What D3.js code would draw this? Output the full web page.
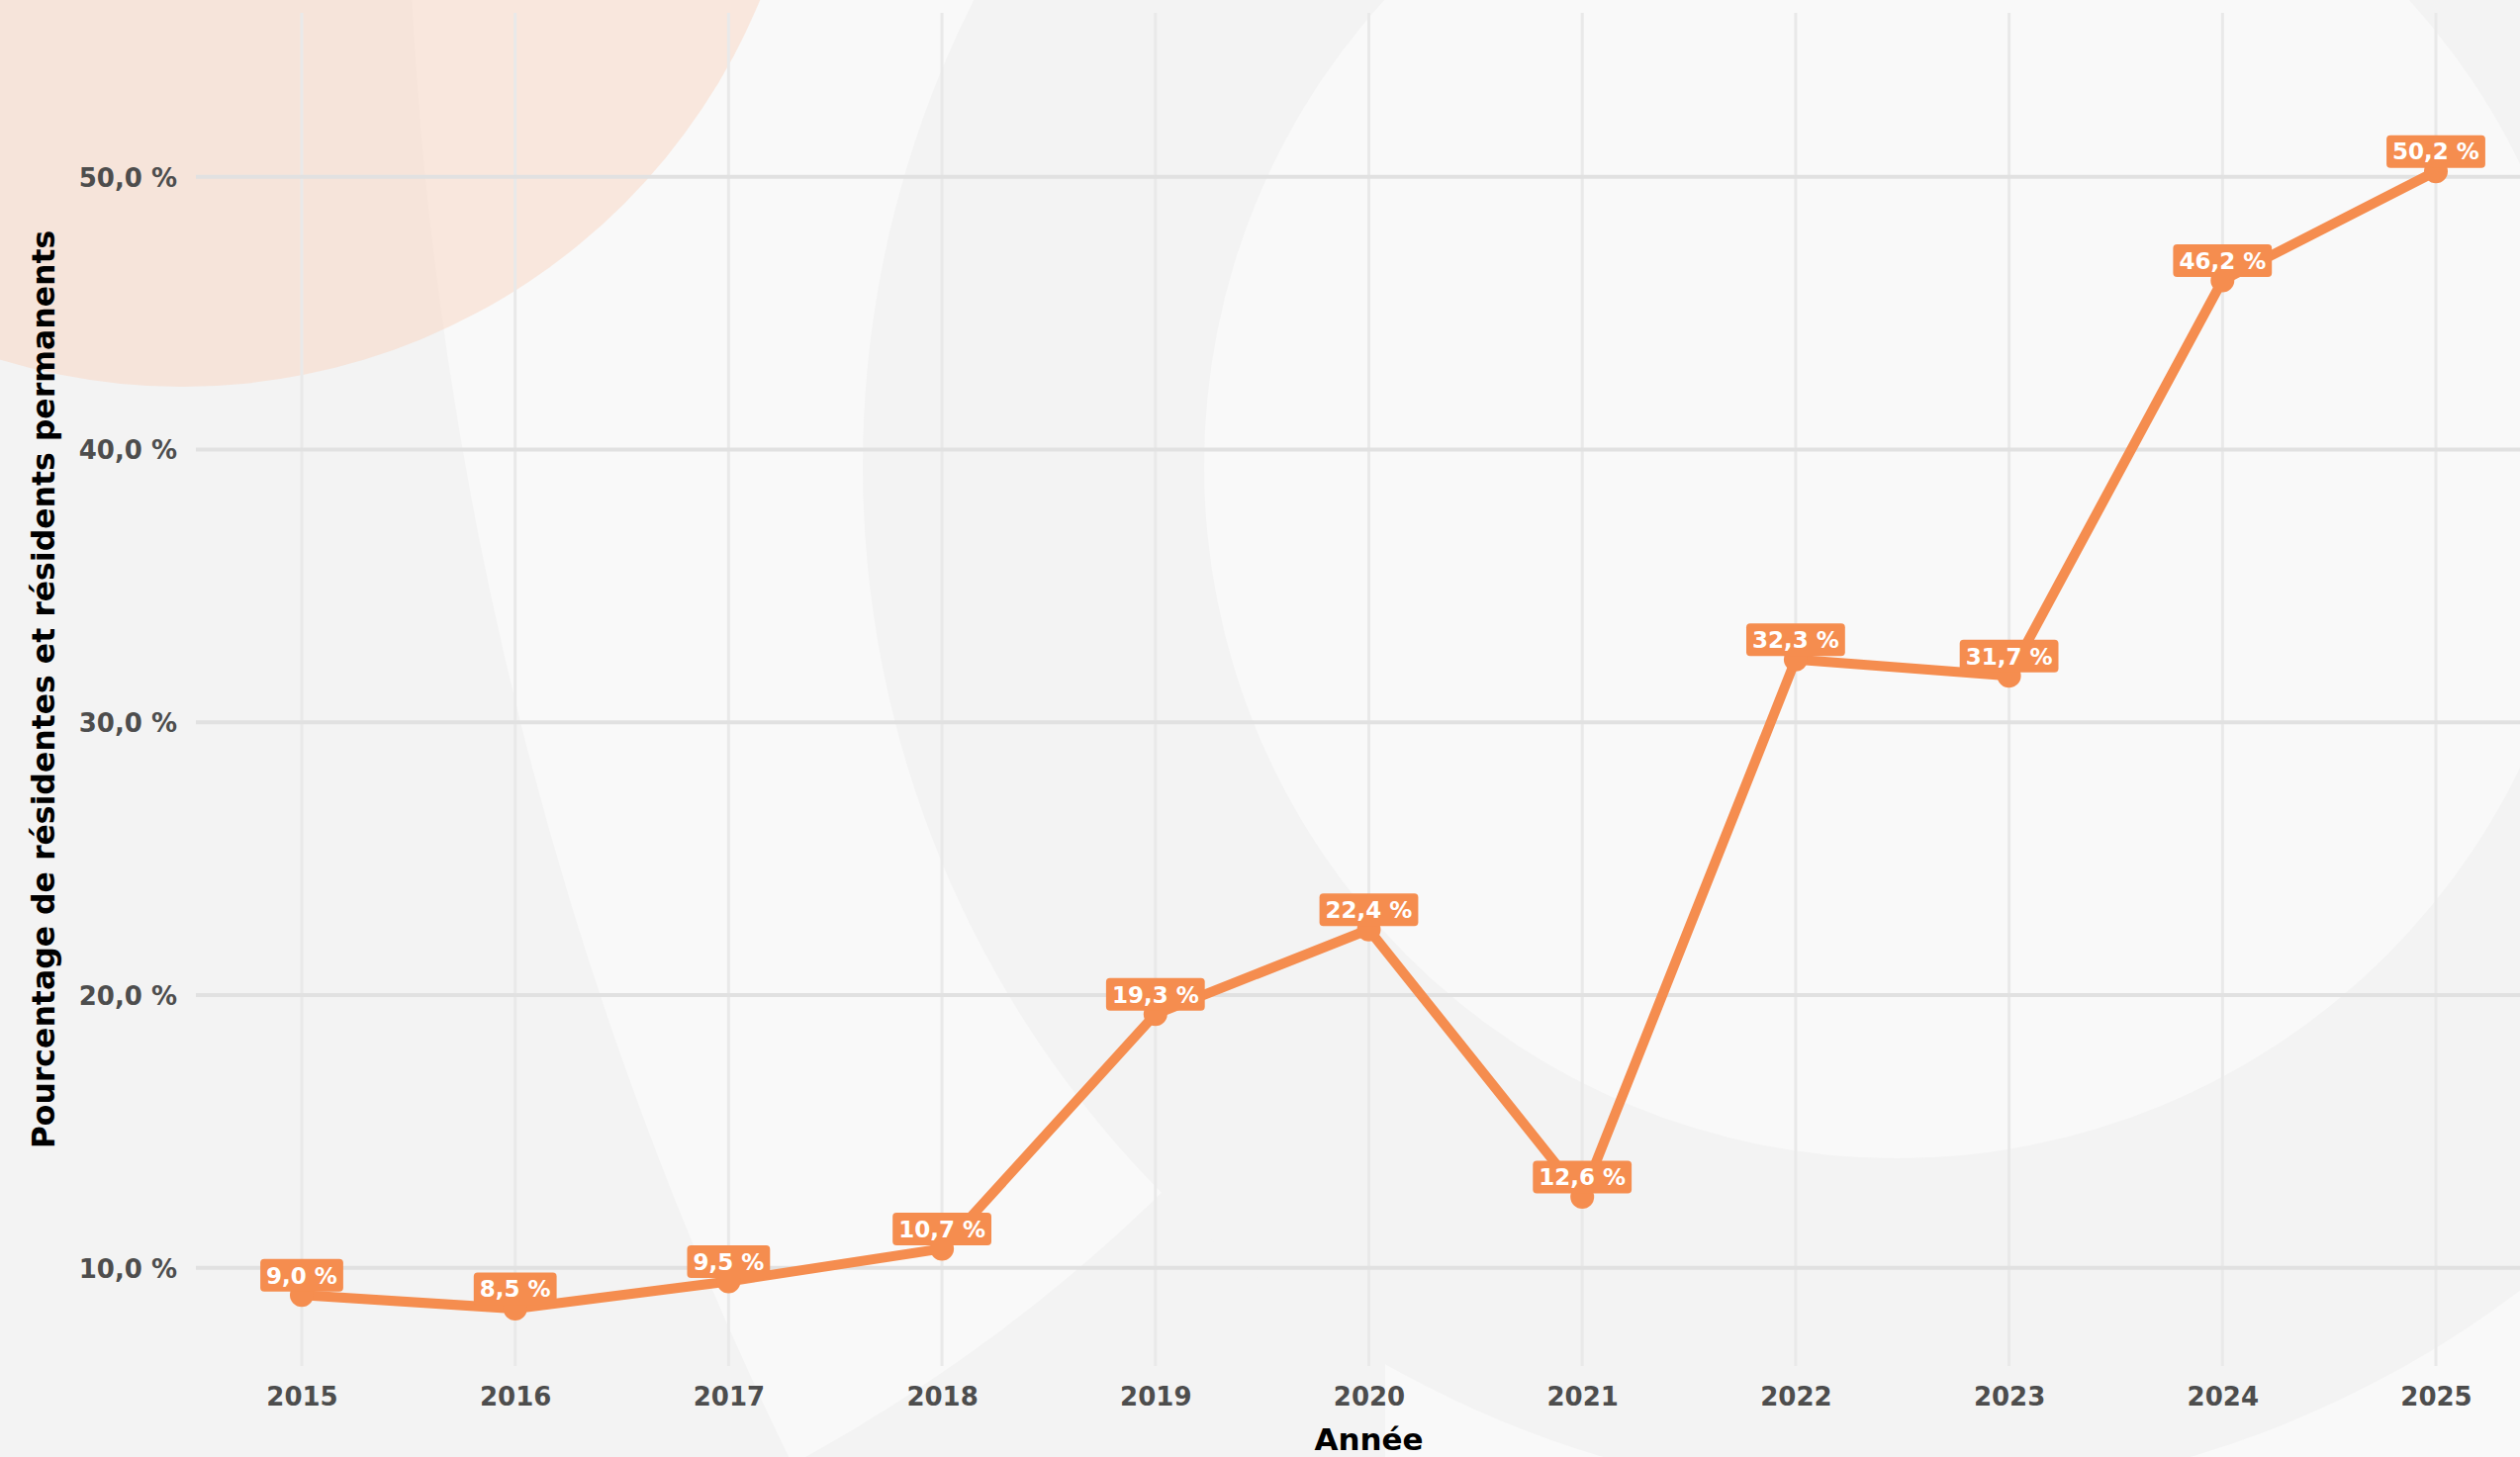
<!DOCTYPE html>
<html>
<head>
<meta charset="utf-8">
<script src="https://cdn.jsdelivr.net/npm/d3@7"></script>
<style>
  html, body { margin: 0; padding: 0; background: #f3f3f3; overflow: hidden; }
  svg { display: block; }
  text { font-family: "DejaVu Sans", "Noto Sans", sans-serif; }
</style>
</head>
<body>
<svg id="chart" width="2547" height="1473"></svg>
<script>
// ---- data ----
const years = [2015, 2016, 2017, 2018, 2019, 2020, 2021, 2022, 2023, 2024, 2025];
const values = [9.0, 8.5, 9.5, 10.7, 19.3, 22.4, 12.6, 32.3, 31.7, 46.2, 50.2];
const yTicks = [10, 20, 30, 40, 50];
const xLabel = "Année";
const yLabel = "Pourcentage de résidentes et résidents permanents";

// ---- layout ----
const W = 2547, H = 1473;
const svg = d3.select("#chart");
const frLocale = d3.formatLocale({ decimal: ",", thousands: "\u202f", grouping: [3], currency: ["", " €"] });
const fmt = v => frLocale.format(".1f")(v) + " %";

const x = d3.scaleLinear().domain([2015, 2025]).range([305, 2462]);
const y = d3.scaleLinear().domain([10, 50]).range([1281.7, 178.7]);
const plotTop = 13, plotBottom = 1381, gridLeft = 198, gridRight = W;

// ---- background decoration ----
const defs = svg.append("defs");
const cA = defs.append("clipPath").attr("id", "clipA");
cA.append("circle").attr("cx", 4227).attr("cy", -200).attr("r", 3816);
const cB = defs.append("clipPath").attr("id", "clipB");
cB.append("circle").attr("cx", 0).attr("cy", 0).attr("r", 1683);
cB.append("rect").attr("x", 1400).attr("y", 1330).attr("width", 1200).attr("height", 300);
cB.append("rect").attr("x", 1917).attr("y", 900).attr("width", 700).attr("height", 700);

svg.append("rect").attr("width", W).attr("height", H).attr("fill", "#f3f3f3");
svg.append("g").attr("clip-path", "url(#clipA)")
  .append("g").attr("clip-path", "url(#clipB)")
  .append("rect").attr("width", W).attr("height", H).attr("fill", "#f9f9f9");
svg.append("circle").attr("cx", 1917).attr("cy", 471).attr("r", 1045).attr("fill", "#f3f3f3");
svg.append("circle").attr("cx", 1917).attr("cy", 471).attr("r", 700).attr("fill", "#f9f9f9");
svg.append("circle").attr("cx", 184).attr("cy", -241).attr("r", 632)
  .attr("fill", "rgb(251,204,179)").attr("fill-opacity", 0.4);

// ---- grid ----
const grid = svg.append("g");
grid.selectAll("line.v").data(years).join("line")
  .attr("x1", d => x(d)).attr("x2", d => x(d))
  .attr("y1", plotTop).attr("y2", plotBottom)
  .attr("stroke", "#e9e9e9").attr("stroke-width", 3);
grid.selectAll("line.h").data(yTicks).join("line")
  .attr("x1", gridLeft).attr("x2", gridRight)
  .attr("y1", d => y(d)).attr("y2", d => y(d))
  .attr("stroke", "#e1e1e1").attr("stroke-width", 4);

// ---- axes ----
const yAxis = d3.axisLeft(y).tickValues(yTicks).tickFormat(fmt).tickSize(0).tickPadding(0);
const gy = svg.append("g").attr("transform", "translate(179,0)").call(yAxis);
gy.select(".domain").remove();
gy.selectAll("text").attr("font-size", 26).attr("font-weight", 700).attr("fill", "#4d4d4d")
  .attr("dy", "0.36em");

const xAxis = d3.axisBottom(x).tickValues(years).tickFormat(d3.format("d")).tickSize(0).tickPadding(0);
const gx = svg.append("g").attr("transform", "translate(0,1402)").call(xAxis);
gx.select(".domain").remove();
gx.selectAll("text").attr("font-size", 26).attr("font-weight", 700).attr("fill", "#4d4d4d")
  .attr("dy", "0.74em");

svg.append("text").attr("x", (x(2015) + x(2025)) / 2).attr("y", 1466)
  .attr("text-anchor", "middle").attr("font-size", 31).attr("font-weight", 700)
  .attr("fill", "#000").text(xLabel);

svg.append("text").attr("transform", "translate(55,697) rotate(-90)")
  .attr("text-anchor", "middle").attr("font-size", 31.5).attr("font-weight", 700)
  .attr("fill", "#000").text(yLabel);

// ---- series ----
const pts = years.map((yr, i) => ({ yr, v: values[i] }));
const orange = "#f58d4f";
svg.append("path").datum(pts)
  .attr("d", d3.line().x(d => x(d.yr)).y(d => y(d.v)))
  .attr("fill", "none").attr("stroke", orange).attr("stroke-width", 10)
  .attr("stroke-linejoin", "round").attr("stroke-linecap", "round");
svg.append("g").selectAll("circle").data(pts).join("circle")
  .attr("cx", d => x(d.yr)).attr("cy", d => y(d.v)).attr("r", 12).attr("fill", orange);

const lg = svg.append("g").selectAll("g").data(pts).join("g")
  .attr("transform", d => `translate(${x(d.yr)},${y(d.v) - 20})`);
lg.append("rect").attr("fill", orange).attr("rx", 4).attr("ry", 4);
lg.append("text").attr("text-anchor", "middle").attr("dy", "0.36em")
  .attr("font-size", 23).attr("font-weight", 700).attr("fill", "#fff")
  .text(d => fmt(d.v));
lg.each(function () {
  const g = d3.select(this);
  const w = g.select("text").node().getComputedTextLength();
  g.select("rect").attr("x", -w / 2 - 6).attr("width", w + 12).attr("y", -16.5).attr("height", 33);
});
</script>
</body>
</html>
